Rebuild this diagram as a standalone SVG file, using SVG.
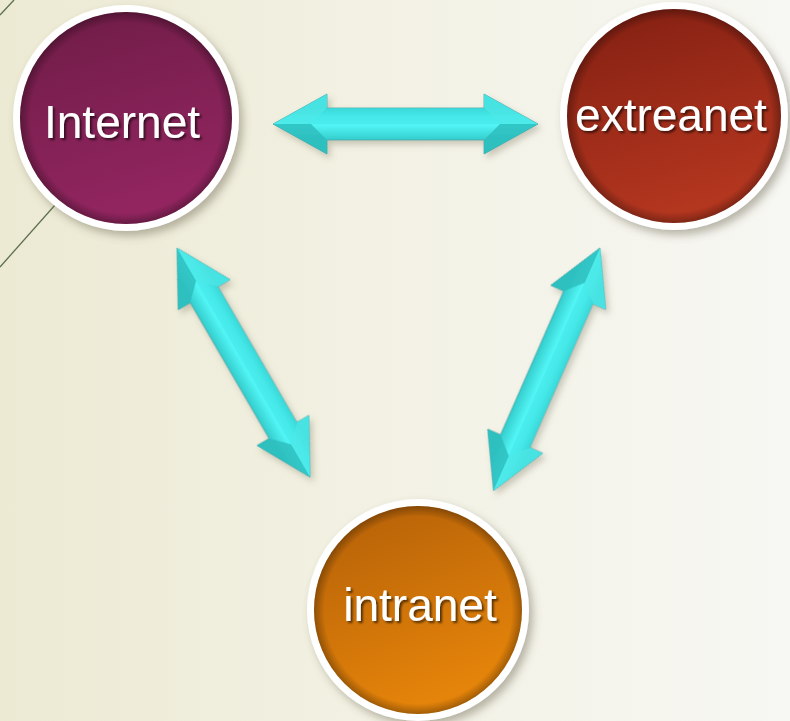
<svg xmlns="http://www.w3.org/2000/svg" width="790" height="721" viewBox="0 0 790 721">
  <defs>
    <linearGradient id="bg" x1="0" y1="0" x2="1" y2="0">
      <stop offset="0" stop-color="#ecead3"/>
      <stop offset="0.55" stop-color="#f3f2e6"/>
      <stop offset="1" stop-color="#f7f7f3"/>
    </linearGradient>
    <linearGradient id="gInternet" x1="0" y1="0" x2="0.3" y2="1">
      <stop offset="0" stop-color="#6e1c46"/>
      <stop offset="1" stop-color="#922560"/>
    </linearGradient>
    <linearGradient id="gExtra" x1="0" y1="0" x2="0.3" y2="1">
      <stop offset="0" stop-color="#821f12"/>
      <stop offset="1" stop-color="#b3361f"/>
    </linearGradient>
    <linearGradient id="gIntra" x1="0" y1="0" x2="0.4" y2="1">
      <stop offset="0" stop-color="#b25f08"/>
      <stop offset="1" stop-color="#e5840a"/>
    </linearGradient>
    <radialGradient id="rim" cx="0.5" cy="0.5" r="0.5">
      <stop offset="0.9" stop-color="#000" stop-opacity="0"/>
      <stop offset="1" stop-color="#000" stop-opacity="0.3"/>
    </radialGradient>
    <linearGradient id="gArrow" gradientUnits="userSpaceOnUse" x1="0" y1="-16" x2="0" y2="16">
      <stop offset="0" stop-color="#2fc6c6"/>
      <stop offset="0.25" stop-color="#44e6e6"/>
      <stop offset="0.55" stop-color="#52f4f4"/>
      <stop offset="1" stop-color="#33cccc"/>
    </linearGradient>
    <filter id="shadow" x="-20%" y="-20%" width="150%" height="150%">
      <feDropShadow dx="4" dy="5" stdDeviation="4" flood-color="#6b6650" flood-opacity="0.45"/>
    </filter>
    <filter id="ashadow" x="-20%" y="-20%" width="150%" height="150%">
      <feDropShadow dx="3" dy="4" stdDeviation="3" flood-color="#7a7660" flood-opacity="0.35"/>
    </filter>
    <filter id="tshadow" x="-10%" y="-20%" width="130%" height="150%">
      <feDropShadow dx="2" dy="2" stdDeviation="1" flood-color="#000" flood-opacity="0.6"/>
    </filter>
    <g id="arrow">
      <path d="M0,0 L54,-30 L54,-16 L211,-16 L211,-30 L265,0 L211,30 L211,16 L54,16 L54,30 Z" fill="url(#gArrow)" stroke="#4aa6a6" stroke-width="0.8"/>
      <path d="M0,0 L54,-30 L54,-16 L38,0 Z" fill="#4ee8e8" opacity="0.8"/>
      <path d="M0,0 L54,30 L54,16 L38,0 Z" fill="#2cbcbc" opacity="0.8"/>
      <path d="M265,0 L211,-30 L211,-16 L227,0 Z" fill="#4ee8e8" opacity="0.8"/>
      <path d="M265,0 L211,30 L211,16 L227,0 Z" fill="#2cbcbc" opacity="0.8"/>
      <path d="M38,0 L54,-16 L211,-16 L227,0 Z" fill="#46eaea" opacity="0.5"/>
    </g>
    <style>
      .ring { fill: #ffffff; }
      .label { font-family: "Liberation Sans", Arial, sans-serif; font-size: 46px; fill: #ffffff; text-anchor: middle; }
      .deco { stroke: #5c6e4c; stroke-width: 1.3; fill: none; }
    </style>
  </defs>

  <rect x="0" y="0" width="790" height="721" fill="url(#bg)"/>
  <line class="deco" x1="0" y1="15" x2="14" y2="0"/>
  <line class="deco" x1="0" y1="267" x2="150" y2="98"/>

  <g id="connectors" filter="url(#ashadow)">
    <use href="#arrow" transform="translate(273,124)"/>
    <use href="#arrow" transform="translate(177,248) rotate(59.85)"/>
    <use href="#arrow" transform="translate(600,248) rotate(113.7)"/>
  </g>

  <g id="node-internet">
    <circle class="ring" cx="126" cy="118" r="113" filter="url(#shadow)"/>
    <circle cx="126" cy="118" r="106" fill="url(#gInternet)"/>
    <circle cx="126" cy="118" r="106" fill="url(#rim)"/>
    <text class="label" x="122" y="138" filter="url(#tshadow)">Internet</text>
  </g>

  <g id="node-extreanet">
    <circle class="ring" cx="674" cy="116" r="114" filter="url(#shadow)"/>
    <circle cx="674" cy="116" r="107" fill="url(#gExtra)"/>
    <circle cx="674" cy="116" r="107" fill="url(#rim)"/>
    <text class="label" x="671" y="131" filter="url(#tshadow)">extreanet</text>
  </g>

  <g id="node-intranet">
    <circle class="ring" cx="418" cy="610" r="111" filter="url(#shadow)"/>
    <circle cx="418" cy="610" r="104" fill="url(#gIntra)"/>
    <circle cx="418" cy="610" r="104" fill="url(#rim)"/>
    <text class="label" x="420" y="621" filter="url(#tshadow)">intranet</text>
  </g>
</svg>
